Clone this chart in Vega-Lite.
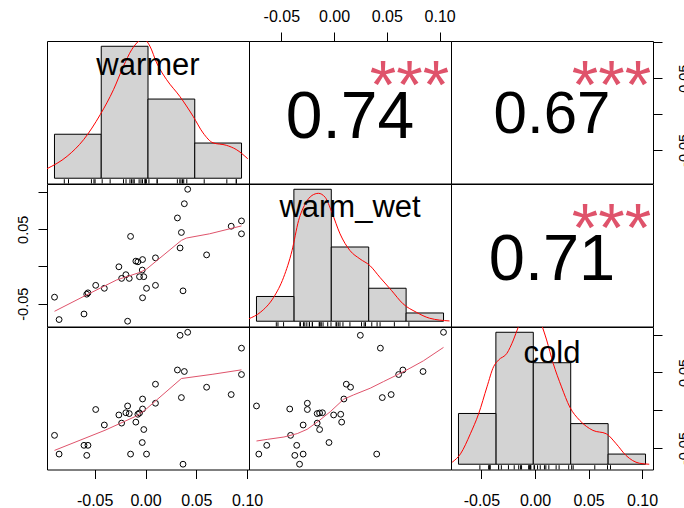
{
  "$schema": "https://vega.github.io/schema/vega-lite/v6.json",
  "background": "white",
  "padding": {"left": 14, "top": 7, "right": -6, "bottom": 0},
  "datasets": {
    "pts": [
      {"warmer": -0.0895, "warm_wet": -0.0412, "cold": -0.0332},
      {"warmer": -0.0850, "warm_wet": -0.0713, "cold": -0.0580},
      {"warmer": -0.0605, "warm_wet": -0.0638, "cold": -0.0464},
      {"warmer": -0.0578, "warm_wet": -0.0372, "cold": -0.0597},
      {"warmer": -0.0566, "warm_wet": -0.0354, "cold": -0.0464},
      {"warmer": -0.0490, "warm_wet": -0.0253, "cold": 0.0010},
      {"warmer": -0.0405, "warm_wet": -0.0293, "cold": -0.0195},
      {"warmer": -0.0262, "warm_wet": -0.0004, "cold": -0.0062},
      {"warmer": -0.0235, "warm_wet": -0.0160, "cold": -0.0170},
      {"warmer": -0.0193, "warm_wet": -0.0110, "cold": -0.0033},
      {"warmer": -0.0160, "warm_wet": -0.0160, "cold": -0.0044},
      {"warmer": -0.0147, "warm_wet": 0.0404, "cold": -0.0580},
      {"warmer": -0.0176, "warm_wet": -0.0735, "cold": 0.0057},
      {"warmer": -0.0095, "warm_wet": 0.0072, "cold": -0.0157},
      {"warmer": -0.0075, "warm_wet": 0.0063, "cold": -0.0053},
      {"warmer": -0.0029, "warm_wet": 0.0093, "cold": 0.0149},
      {"warmer": -0.0032, "warm_wet": -0.0048, "cold": -0.0427},
      {"warmer": -0.0059, "warm_wet": -0.0137, "cold": -0.0036},
      {"warmer": -0.0017, "warm_wet": -0.0137, "cold": -0.0255},
      {"warmer": -0.0029, "warm_wet": -0.0420, "cold": 0.0017},
      {"warmer": 0.0010, "warm_wet": -0.0293, "cold": -0.0580},
      {"warmer": 0.0098, "warm_wet": 0.0116, "cold": 0.0345},
      {"warmer": 0.0098, "warm_wet": -0.0253, "cold": 0.0093},
      {"warmer": 0.0314, "warm_wet": 0.0652, "cold": 0.0533},
      {"warmer": 0.0353, "warm_wet": 0.0457, "cold": 0.0168},
      {"warmer": 0.0340, "warm_wet": 0.0249, "cold": 0.0992},
      {"warmer": 0.0382, "warm_wet": 0.0843, "cold": 0.0513},
      {"warmer": 0.0415, "warm_wet": 0.1037, "cold": 0.1032},
      {"warmer": 0.0369, "warm_wet": -0.0327, "cold": -0.0714},
      {"warmer": 0.0601, "warm_wet": 0.0156, "cold": 0.0305},
      {"warmer": 0.0843, "warm_wet": 0.0541, "cold": 0.0208},
      {"warmer": 0.0944, "warm_wet": 0.0612, "cold": 0.0473},
      {"warmer": 0.0944, "warm_wet": 0.0439, "cold": 0.0822}
    ],
    "dens": [
      {"v": "warmer", "x": -0.1082, "d": 0.65}, {"v": "warmer", "x": -0.0865, "d": 1.51},
      {"v": "warmer", "x": -0.0688, "d": 2.66}, {"v": "warmer", "x": -0.0511, "d": 4.38},
      {"v": "warmer", "x": -0.0369, "d": 6.10}, {"v": "warmer", "x": -0.0263, "d": 7.71},
      {"v": "warmer", "x": -0.0174, "d": 8.86}, {"v": "warmer", "x": -0.0103, "d": 9.43},
      {"v": "warmer", "x": -0.0055, "d": 9.65}, {"v": "warmer", "x": 0.0021, "d": 9.09},
      {"v": "warmer", "x": 0.0093, "d": 7.94}, {"v": "warmer", "x": 0.0199, "d": 6.79},
      {"v": "warmer", "x": 0.0340, "d": 5.64}, {"v": "warmer", "x": 0.0482, "d": 4.27},
      {"v": "warmer", "x": 0.0589, "d": 3.12}, {"v": "warmer", "x": 0.0695, "d": 2.44},
      {"v": "warmer", "x": 0.0837, "d": 2.27}, {"v": "warmer", "x": 0.0943, "d": 1.98},
      {"v": "warmer", "x": 0.1067, "d": 1.34},
      {"v": "warm_wet", "x": -0.1102, "d": 0.18}, {"v": "warm_wet", "x": -0.0947, "d": 0.66},
      {"v": "warm_wet", "x": -0.0770, "d": 1.76}, {"v": "warm_wet", "x": -0.0637, "d": 3.23},
      {"v": "warm_wet", "x": -0.0525, "d": 5.19}, {"v": "warm_wet", "x": -0.0437, "d": 7.40},
      {"v": "warm_wet", "x": -0.0348, "d": 8.63}, {"v": "warm_wet", "x": -0.0259, "d": 9.24},
      {"v": "warm_wet", "x": -0.0172, "d": 9.40}, {"v": "warm_wet", "x": -0.0082, "d": 9.11},
      {"v": "warm_wet", "x": 0.0007, "d": 8.01}, {"v": "warm_wet", "x": 0.0117, "d": 6.42},
      {"v": "warm_wet", "x": 0.0250, "d": 5.19}, {"v": "warm_wet", "x": 0.0383, "d": 4.58},
      {"v": "warm_wet", "x": 0.0516, "d": 4.09}, {"v": "warm_wet", "x": 0.0649, "d": 3.23},
      {"v": "warm_wet", "x": 0.0805, "d": 2.26}, {"v": "warm_wet", "x": 0.0959, "d": 1.28},
      {"v": "warm_wet", "x": 0.1137, "d": 0.66}, {"v": "warm_wet", "x": 0.1314, "d": 0.22},
      {"v": "warm_wet", "x": 0.1580, "d": 0.02},
      {"v": "cold", "x": -0.1084, "d": 0.12}, {"v": "cold", "x": -0.0973, "d": 0.62},
      {"v": "cold", "x": -0.0841, "d": 1.82}, {"v": "cold", "x": -0.0730, "d": 3.02},
      {"v": "cold", "x": -0.0619, "d": 4.62}, {"v": "cold", "x": -0.0531, "d": 5.82},
      {"v": "cold", "x": -0.0465, "d": 6.22}, {"v": "cold", "x": -0.0353, "d": 6.62},
      {"v": "cold", "x": -0.0266, "d": 7.42}, {"v": "cold", "x": -0.0199, "d": 8.21},
      {"v": "cold", "x": -0.0120, "d": 8.95}, {"v": "cold", "x": -0.0040, "d": 9.25},
      {"v": "cold", "x": 0.0040, "d": 9.05}, {"v": "cold", "x": 0.0111, "d": 8.32},
      {"v": "cold", "x": 0.0178, "d": 7.42}, {"v": "cold", "x": 0.0266, "d": 6.02},
      {"v": "cold", "x": 0.0377, "d": 4.62}, {"v": "cold", "x": 0.0487, "d": 3.42},
      {"v": "cold", "x": 0.0620, "d": 2.62}, {"v": "cold", "x": 0.0797, "d": 2.02},
      {"v": "cold", "x": 0.0975, "d": 1.82}, {"v": "cold", "x": 0.1108, "d": 1.22},
      {"v": "cold", "x": 0.1240, "d": 0.52}, {"v": "cold", "x": 0.1417, "d": 0.06},
      {"v": "cold", "x": 0.1550, "d": 0.0}
    ],
    "smooth": [
      {"p": "21", "x": -0.0895, "y": -0.0602}, {"p": "21", "x": -0.0578, "y": -0.0381},
      {"p": "21", "x": -0.0284, "y": -0.0181}, {"p": "21", "x": -0.0056, "y": -0.0080},
      {"p": "21", "x": 0.0010, "y": -0.0035}, {"p": "21", "x": 0.0353, "y": 0.0351},
      {"p": "21", "x": 0.0402, "y": 0.0382}, {"p": "21", "x": 0.0630, "y": 0.0439},
      {"p": "21", "x": 0.0944, "y": 0.0545},
      {"p": "31", "x": -0.0895, "y": -0.0531}, {"p": "31", "x": -0.0399, "y": -0.0265},
      {"p": "31", "x": -0.0088, "y": -0.0075}, {"p": "31", "x": -0.0007, "y": 0.0},
      {"p": "31", "x": 0.0353, "y": 0.0420}, {"p": "31", "x": 0.0663, "y": 0.0477},
      {"p": "31", "x": 0.0944, "y": 0.0535},
      {"p": "32", "x": -0.0735, "y": -0.0407}, {"p": "32", "x": -0.0632, "y": -0.0385},
      {"p": "32", "x": -0.0475, "y": -0.0354}, {"p": "32", "x": -0.0349, "y": -0.0309},
      {"p": "32", "x": -0.0255, "y": -0.0252}, {"p": "32", "x": -0.0145, "y": -0.0141},
      {"p": "32", "x": -0.0035, "y": -0.0018}, {"p": "32", "x": 0.0091, "y": 0.0146},
      {"p": "32", "x": 0.0186, "y": 0.0204}, {"p": "32", "x": 0.0343, "y": 0.0292},
      {"p": "32", "x": 0.0469, "y": 0.0380}, {"p": "32", "x": 0.0610, "y": 0.0477},
      {"p": "32", "x": 0.0720, "y": 0.0557}, {"p": "32", "x": 0.0846, "y": 0.0654},
      {"p": "32", "x": 0.1037, "y": 0.0832}
    ],
    "labels": [{"v": "warmer"}, {"v": "warm_wet"}, {"v": "cold"}],
    "cors": [
      {"p": "12", "r": "0.74", "s": "***"},
      {"p": "13", "r": "0.67", "s": "***"},
      {"p": "23", "r": "0.71", "s": "***"}
    ]
  },
  "columns": 3,
  "spacing": 0,
  "bounds": "flush",
  "concat": [
    {
      "width": 202, "height": 142.5,
      "layer": [
        {
          "data": {"name": "pts"},
          "transform": [
            {"bin": {"extent": [-0.1, 0.1], "step": 0.05}, "field": "warmer", "as": ["wa0", "wa1"]},
            {"aggregate": [{"op": "count", "as": "wan"}], "groupby": ["wa0", "wa1"]}
          ],
          "mark": {"type": "bar", "fill": "#D3D3D3", "stroke": "black", "strokeWidth": 1},
          "encoding": {
            "x": {"field": "wa0", "type": "quantitative", "scale": {"domain": [-0.108, 0.108], "nice": false, "zero": false}, "axis": null},
            "x2": {"field": "wa1"},
            "y": {"field": "wan", "type": "quantitative", "scale": {"domain": [-0.6, 15.6], "nice": false, "zero": false}, "axis": null},
            "y2": {"datum": 0}
          }
        },
        {
          "data": {"name": "dens"},
          "transform": [{"filter": "datum.v == 'warmer'"}],
          "mark": {"type": "line", "color": "red", "strokeWidth": 1, "clip": true, "interpolate": "monotone"},
          "encoding": {
            "x": {"field": "x", "type": "quantitative", "scale": {"domain": [-0.108, 0.108], "nice": false, "zero": false}, "axis": null},
            "y": {"field": "d", "type": "quantitative", "scale": {"domain": [-0.3636, 9.4545], "nice": false, "zero": false}, "axis": null}
          }
        },
        {
          "data": {"name": "pts"},
          "mark": {"type": "rule", "stroke": "black", "strokeWidth": 1},
          "encoding": {
            "x": {"field": "warmer", "type": "quantitative", "scale": {"domain": [-0.108, 0.108], "nice": false, "zero": false}, "axis": null},
            "y": {"datum": -0.6, "type": "quantitative", "scale": {"domain": [-0.6, 15.6], "nice": false, "zero": false}, "axis": null},
            "y2": {"datum": -0.11}
          }
        },
        {
          "data": {"name": "labels"},
          "transform": [{"filter": "datum.v == 'warmer'"}],
          "mark": {"type": "text", "font": "Liberation Sans", "fontSize": 31, "align": "center", "baseline": "alphabetic", "color": "black"},
          "encoding": {
            "text": {"field": "v"},
            "x": {"datum": 0, "type": "quantitative", "scale": {"domain": [-0.108, 0.108], "nice": false, "zero": false}, "axis": null},
            "y": {"datum": 11.755, "type": "quantitative", "scale": {"domain": [-0.6, 15.6], "nice": false, "zero": false}, "axis": null}
          }
        }
      ],
      "resolve": {"scale": {"y": "independent"}}
    },
    {
      "width": 202, "height": 142.5,
      "data": {"name": "cors"},
      "transform": [{"filter": "datum.p == '12'"}],
      "layer": [
        {
          "mark": {"type": "text", "font": "Liberation Sans", "fontSize": 66, "align": "center", "baseline": "alphabetic", "color": "black"},
          "encoding": {
            "text": {"field": "r"},
            "x": {"datum": 0.0151, "type": "quantitative", "scale": {"domain": [-0.0806, 0.1108], "nice": false, "zero": false},
                  "axis": {"orient": "top", "values": [-0.05, 0, 0.05, 0.1], "labelExpr": "datum.value < -0.01 ? '-0.05' : datum.value < 0.01 ? '0.00' : datum.value < 0.07 ? '0.05' : '0.10'", "labelAngle": 0, "labelPadding": 8, "labelFontSize": 16, "title": null}},
            "y": {"datum": -0.0333, "type": "quantitative", "scale": {"domain": [-0.0969, 0.1018], "nice": false, "zero": false}, "axis": null}
          }
        },
        {
          "mark": {"type": "text", "font": "Liberation Sans", "fontSize": 68, "align": "center", "baseline": "alphabetic", "color": "#DF536B", "clip": true},
          "encoding": {
            "text": {"field": "s"},
            "x": {"datum": 0.0715, "type": "quantitative", "scale": {"domain": [-0.0806, 0.1108], "nice": false, "zero": false},
                  "axis": {"orient": "top", "values": [-0.05, 0, 0.05, 0.1], "labelExpr": "datum.value < -0.01 ? '-0.05' : datum.value < 0.01 ? '0.00' : datum.value < 0.07 ? '0.05' : '0.10'", "labelAngle": 0, "labelPadding": 8, "labelFontSize": 16, "title": null}},
            "y": {"datum": 0.0082, "type": "quantitative", "scale": {"domain": [-0.0969, 0.1018], "nice": false, "zero": false}, "axis": null}
          }
        }
      ]
    },
    {
      "width": 202, "height": 142.5,
      "data": {"name": "cors"},
      "transform": [{"filter": "datum.p == '13'"}],
      "layer": [
        {
          "mark": {"type": "text", "font": "Liberation Sans", "fontSize": 60, "align": "center", "baseline": "alphabetic", "color": "black"},
          "encoding": {
            "text": {"field": "r"},
            "x": {"datum": 0.0159, "type": "quantitative", "scale": {"domain": [-0.0784, 0.1102], "nice": false, "zero": false}, "axis": null},
            "y": {"datum": -0.0264, "type": "quantitative", "scale": {"domain": [-0.0969, 0.1018], "nice": false, "zero": false},
                  "axis": {"orient": "right", "values": [-0.05, 0, 0.05, 0.1], "labelExpr": "datum.value < -0.01 ? '-0.05' : (datum.value > 0.01 && datum.value < 0.07) ? '0.05' : ''", "labelAngle": 270, "labelAlign": "center", "labelBaseline": "top", "labelPadding": 15, "labelFontSize": 14.5, "title": null}}
          }
        },
        {
          "mark": {"type": "text", "font": "Liberation Sans", "fontSize": 68, "align": "center", "baseline": "alphabetic", "color": "#DF536B", "clip": true},
          "encoding": {
            "text": {"field": "s"},
            "x": {"datum": 0.0715, "type": "quantitative", "scale": {"domain": [-0.0784, 0.1102], "nice": false, "zero": false}, "axis": null},
            "y": {"datum": 0.0082, "type": "quantitative", "scale": {"domain": [-0.0969, 0.1018], "nice": false, "zero": false},
                  "axis": {"orient": "right", "values": [-0.05, 0, 0.05, 0.1], "labelExpr": "datum.value < -0.01 ? '-0.05' : (datum.value > 0.01 && datum.value < 0.07) ? '0.05' : ''", "labelAngle": 270, "labelAlign": "center", "labelBaseline": "top", "labelPadding": 15, "labelFontSize": 14.5, "title": null}}
          }
        }
      ]
    },
    {
      "width": 202, "height": 142.5,
      "layer": [
        {
          "data": {"name": "pts"},
          "mark": {"type": "point", "shape": "circle", "filled": false, "stroke": "black", "strokeWidth": 1, "size": 34, "opacity": 1},
          "encoding": {
            "x": {"field": "warmer", "type": "quantitative", "scale": {"domain": [-0.0969, 0.1018], "nice": false, "zero": false}, "axis": null},
            "y": {"field": "warm_wet", "type": "quantitative", "scale": {"domain": [-0.0806, 0.1108], "nice": false, "zero": false},
                  "axis": {"orient": "left", "values": [-0.05, 0, 0.05, 0.1], "labelExpr": "datum.value < -0.01 ? '-0.05' : (datum.value > 0.01 && datum.value < 0.07) ? '0.05' : ''", "labelAngle": 270, "labelAlign": "center", "labelBaseline": "bottom", "labelPadding": 8, "labelFontSize": 14.5, "title": null}}
          }
        },
        {
          "data": {"name": "smooth"},
          "transform": [{"filter": "datum.p == '21'"}],
          "mark": {"type": "line", "color": "#DF536B", "strokeWidth": 1},
          "encoding": {
            "x": {"field": "x", "type": "quantitative", "scale": {"domain": [-0.0969, 0.1018], "nice": false, "zero": false}, "axis": null},
            "y": {"field": "y", "type": "quantitative", "scale": {"domain": [-0.0806, 0.1108], "nice": false, "zero": false},
                  "axis": {"orient": "left", "values": [-0.05, 0, 0.05, 0.1], "labelExpr": "datum.value < -0.01 ? '-0.05' : (datum.value > 0.01 && datum.value < 0.07) ? '0.05' : ''", "labelAngle": 270, "labelAlign": "center", "labelBaseline": "bottom", "labelPadding": 8, "labelFontSize": 14.5, "title": null}}
          }
        }
      ]
    },
    {
      "width": 202, "height": 142.5,
      "layer": [
        {
          "data": {"name": "pts"},
          "transform": [
            {"bin": {"extent": [-0.1, 0.15], "step": 0.05}, "field": "warm_wet", "as": ["ww0", "ww1"]},
            {"aggregate": [{"op": "count", "as": "wwn"}], "groupby": ["ww0", "ww1"]}
          ],
          "mark": {"type": "bar", "fill": "#D3D3D3", "stroke": "black", "strokeWidth": 1},
          "encoding": {
            "x": {"field": "ww0", "type": "quantitative", "scale": {"domain": [-0.11, 0.16], "nice": false, "zero": false}, "axis": null},
            "x2": {"field": "ww1"},
            "y": {"field": "wwn", "type": "quantitative", "scale": {"domain": [-0.64, 16.64], "nice": false, "zero": false}, "axis": null},
            "y2": {"datum": 0}
          }
        },
        {
          "data": {"name": "dens"},
          "transform": [{"filter": "datum.v == 'warm_wet'"}],
          "mark": {"type": "line", "color": "red", "strokeWidth": 1, "clip": true, "interpolate": "monotone"},
          "encoding": {
            "x": {"field": "x", "type": "quantitative", "scale": {"domain": [-0.11, 0.16], "nice": false, "zero": false}, "axis": null},
            "y": {"field": "d", "type": "quantitative", "scale": {"domain": [-0.3879, 10.0848], "nice": false, "zero": false}, "axis": null}
          }
        },
        {
          "data": {"name": "pts"},
          "mark": {"type": "rule", "stroke": "black", "strokeWidth": 1},
          "encoding": {
            "x": {"field": "warm_wet", "type": "quantitative", "scale": {"domain": [-0.11, 0.16], "nice": false, "zero": false}, "axis": null},
            "y": {"datum": -0.64, "type": "quantitative", "scale": {"domain": [-0.64, 16.64], "nice": false, "zero": false}, "axis": null},
            "y2": {"datum": -0.117}
          }
        },
        {
          "data": {"name": "labels"},
          "transform": [{"filter": "datum.v == 'warm_wet'"}],
          "mark": {"type": "text", "font": "Liberation Sans", "fontSize": 31, "align": "center", "baseline": "alphabetic", "color": "black"},
          "encoding": {
            "text": {"field": "v"},
            "x": {"datum": 0.025, "type": "quantitative", "scale": {"domain": [-0.11, 0.16], "nice": false, "zero": false}, "axis": null},
            "y": {"datum": 12.66, "type": "quantitative", "scale": {"domain": [-0.64, 16.64], "nice": false, "zero": false}, "axis": null}
          }
        }
      ],
      "resolve": {"scale": {"y": "independent"}}
    },
    {
      "width": 202, "height": 142.5,
      "data": {"name": "cors"},
      "transform": [{"filter": "datum.p == '23'"}],
      "layer": [
        {
          "mark": {"type": "text", "font": "Liberation Sans", "fontSize": 65, "align": "center", "baseline": "alphabetic", "color": "black"},
          "encoding": {
            "text": {"field": "r"},
            "x": {"datum": 0.0159, "type": "quantitative", "scale": {"domain": [-0.0784, 0.1102], "nice": false, "zero": false}, "axis": null},
            "y": {"datum": -0.0176, "type": "quantitative", "scale": {"domain": [-0.0806, 0.1108], "nice": false, "zero": false}, "axis": null}
          }
        },
        {
          "mark": {"type": "text", "font": "Liberation Sans", "fontSize": 68, "align": "center", "baseline": "alphabetic", "color": "#DF536B", "clip": true},
          "encoding": {
            "text": {"field": "s"},
            "x": {"datum": 0.0715, "type": "quantitative", "scale": {"domain": [-0.0784, 0.1102], "nice": false, "zero": false}, "axis": null},
            "y": {"datum": 0.0209, "type": "quantitative", "scale": {"domain": [-0.0806, 0.1108], "nice": false, "zero": false}, "axis": null}
          }
        }
      ]
    },
    {
      "width": 202, "height": 142.5,
      "layer": [
        {
          "data": {"name": "pts"},
          "mark": {"type": "point", "shape": "circle", "filled": false, "stroke": "black", "strokeWidth": 1, "size": 34, "opacity": 1},
          "encoding": {
            "x": {"field": "warmer", "type": "quantitative", "scale": {"domain": [-0.0969, 0.1018], "nice": false, "zero": false},
                  "axis": {"orient": "bottom", "values": [-0.05, 0, 0.05, 0.1], "labelExpr": "datum.value < -0.01 ? '-0.05' : datum.value < 0.01 ? '0.00' : datum.value < 0.07 ? '0.05' : '0.10'", "labelAngle": 0, "labelPadding": 14, "labelFontSize": 16, "title": null}},
            "y": {"field": "cold", "type": "quantitative", "scale": {"domain": [-0.0784, 0.1102], "nice": false, "zero": false}, "axis": null}
          }
        },
        {
          "data": {"name": "smooth"},
          "transform": [{"filter": "datum.p == '31'"}],
          "mark": {"type": "line", "color": "#DF536B", "strokeWidth": 1},
          "encoding": {
            "x": {"field": "x", "type": "quantitative", "scale": {"domain": [-0.0969, 0.1018], "nice": false, "zero": false},
                  "axis": {"orient": "bottom", "values": [-0.05, 0, 0.05, 0.1], "labelExpr": "datum.value < -0.01 ? '-0.05' : datum.value < 0.01 ? '0.00' : datum.value < 0.07 ? '0.05' : '0.10'", "labelAngle": 0, "labelPadding": 14, "labelFontSize": 16, "title": null}},
            "y": {"field": "y", "type": "quantitative", "scale": {"domain": [-0.0784, 0.1102], "nice": false, "zero": false}, "axis": null}
          }
        }
      ]
    },
    {
      "width": 202, "height": 142.5,
      "layer": [
        {
          "data": {"name": "pts"},
          "mark": {"type": "point", "shape": "circle", "filled": false, "stroke": "black", "strokeWidth": 1, "size": 34, "opacity": 1},
          "encoding": {
            "x": {"field": "warm_wet", "type": "quantitative", "scale": {"domain": [-0.0806, 0.1108], "nice": false, "zero": false}, "axis": null},
            "y": {"field": "cold", "type": "quantitative", "scale": {"domain": [-0.0784, 0.1102], "nice": false, "zero": false}, "axis": null}
          }
        },
        {
          "data": {"name": "smooth"},
          "transform": [{"filter": "datum.p == '32'"}],
          "mark": {"type": "line", "color": "#DF536B", "strokeWidth": 1},
          "encoding": {
            "x": {"field": "x", "type": "quantitative", "scale": {"domain": [-0.0806, 0.1108], "nice": false, "zero": false}, "axis": null},
            "y": {"field": "y", "type": "quantitative", "scale": {"domain": [-0.0784, 0.1102], "nice": false, "zero": false}, "axis": null}
          }
        }
      ]
    },
    {
      "width": 202, "height": 142.5,
      "layer": [
        {
          "data": {"name": "pts"},
          "mark": {"type": "point", "opacity": 0},
          "encoding": {
            "x": {"field": "cold", "type": "quantitative", "scale": {"domain": [-0.0784, 0.1102], "nice": false, "zero": false},
                  "axis": {"orient": "bottom", "values": [-0.05, 0, 0.05, 0.1], "labelExpr": "datum.value < -0.01 ? '-0.05' : datum.value < 0.01 ? '0.00' : datum.value < 0.07 ? '0.05' : '0.10'", "labelAngle": 0, "labelPadding": 14, "labelFontSize": 16, "title": null}},
            "y": {"field": "cold", "type": "quantitative", "scale": {"domain": [-0.0784, 0.1102], "nice": false, "zero": false},
                  "axis": {"orient": "right", "values": [-0.05, 0, 0.05, 0.1], "labelExpr": "datum.value < -0.01 ? '-0.05' : (datum.value > 0.01 && datum.value < 0.07) ? '0.05' : ''", "labelAngle": 270, "labelAlign": "center", "labelBaseline": "top", "labelPadding": 15, "labelFontSize": 14.5, "title": null}}
          }
        },
        {
          "data": {"name": "pts"},
          "transform": [
            {"bin": {"extent": [-0.1, 0.15], "step": 0.05}, "field": "cold", "as": ["co0", "co1"]},
            {"aggregate": [{"op": "count", "as": "con"}], "groupby": ["co0", "co1"]}
          ],
          "mark": {"type": "bar", "fill": "#D3D3D3", "stroke": "black", "strokeWidth": 1},
          "encoding": {
            "x": {"field": "co0", "type": "quantitative", "scale": {"domain": [-0.11, 0.16], "nice": false, "zero": false}, "axis": null},
            "x2": {"field": "co1"},
            "y": {"field": "con", "type": "quantitative", "scale": {"domain": [-0.52, 13.52], "nice": false, "zero": false}, "axis": null},
            "y2": {"datum": 0}
          }
        },
        {
          "data": {"name": "dens"},
          "transform": [{"filter": "datum.v == 'cold'"}],
          "mark": {"type": "line", "color": "red", "strokeWidth": 1, "clip": true, "interpolate": "monotone"},
          "encoding": {
            "x": {"field": "x", "type": "quantitative", "scale": {"domain": [-0.11, 0.16], "nice": false, "zero": false}, "axis": null},
            "y": {"field": "d", "type": "quantitative", "scale": {"domain": [-0.3152, 8.1939], "nice": false, "zero": false}, "axis": null}
          }
        },
        {
          "data": {"name": "pts"},
          "mark": {"type": "rule", "stroke": "black", "strokeWidth": 1},
          "encoding": {
            "x": {"field": "cold", "type": "quantitative", "scale": {"domain": [-0.11, 0.16], "nice": false, "zero": false}, "axis": null},
            "y": {"datum": -0.52, "type": "quantitative", "scale": {"domain": [-0.52, 13.52], "nice": false, "zero": false}, "axis": null},
            "y2": {"datum": -0.095}
          }
        },
        {
          "data": {"name": "labels"},
          "transform": [{"filter": "datum.v == 'cold'"}],
          "mark": {"type": "text", "font": "Liberation Sans", "fontSize": 31, "align": "center", "baseline": "alphabetic", "color": "black"},
          "encoding": {
            "text": {"field": "v"},
            "x": {"datum": 0.025, "type": "quantitative", "scale": {"domain": [-0.11, 0.16], "nice": false, "zero": false}, "axis": null},
            "y": {"datum": 9.93, "type": "quantitative", "scale": {"domain": [-0.52, 13.52], "nice": false, "zero": false}, "axis": null}
          }
        }
      ],
      "resolve": {"scale": {"x": "independent", "y": "independent"}}
    }
  ],
  "config": {
    "view": {"stroke": "black", "strokeWidth": 1},
    "axis": {
      "domain": false, "grid": false, "ticks": true, "tickSize": 9, "tickColor": "black", "tickWidth": 1,
      "labelFont": "Liberation Sans", "labelColor": "black", "labelOverlap": false, "labelFlush": false, "labelBound": false
    }
  }
}
